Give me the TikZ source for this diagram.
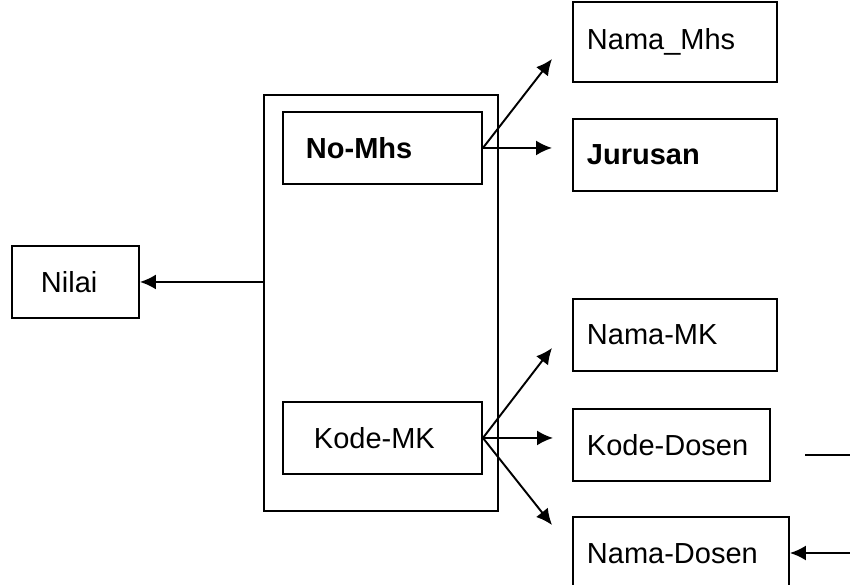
\documentclass[tikz,border=0pt]{standalone}
\usepackage{fontspec}
\setmainfont{Liberation Sans}
\usetikzlibrary{arrows.meta}
\tikzset{kotak/.style={draw, rectangle, anchor=north west, minimum height=1.44cm, inner ysep=0pt, align=left, font=\fontsize{16.5}{20}\selectfont},
  panah/.style={-{Latex[length=3.2mm,width=3mm]}}}
\begin{document}
\begin{tikzpicture}[line width=1.1pt]
  \clip (0,0) rectangle (17,-11.7);
  % kunci
  \node[draw, anchor=north west, minimum width=4.68cm, minimum height=8.32cm] (Tabel) at (5.26,-1.88) {};
  \node[kotak, inner xsep=0.46cm, text width=3.06cm] (NoMhs) at (5.64,-2.22) {\textbf{No-Mhs}};
  \node[kotak, inner xsep=0.62cm, text width=2.74cm] (KodeMK) at (5.64,-8.02) {Kode-MK};
  \node[kotak, inner xsep=0.58cm, text width=1.38cm] (Nilai) at (0.22,-4.9) {Nilai};
  % atribut
  \node[kotak, inner xsep=0.28cm, text width=3.52cm, minimum height=1.6cm] (NamaMhs) at (11.44,-0.02) {Nama\_Mhs};
  \node[kotak, inner xsep=0.28cm, text width=3.52cm] (Jurusan) at (11.44,-2.36) {\textbf{Jurusan}};
  \node[kotak, inner xsep=0.28cm, text width=3.52cm] (NamaMK) at (11.44,-5.96) {Nama-MK};
  \node[kotak, inner xsep=0.28cm, text width=3.38cm] (KodeDosen) at (11.44,-8.16) {Kode-Dosen};
  \node[kotak, inner xsep=0.28cm, text width=3.76cm, minimum height=1.48cm] (NamaDosen) at (11.44,-10.32) {Nama-Dosen};
  \coordinate (t1) at (11.04,-1.18);
  \coordinate (t2) at (11.04,-6.96);
  \coordinate (t3) at (11.04,-10.5);
  \coordinate (g1) at (16.1,-9.1);
  \coordinate (g2) at (17,-9.1);
  \coordinate (g3) at (17,-11.06);
  \draw[panah] (Tabel.west |- Nilai.east) -- (Nilai.east);
  \draw[panah] (NoMhs.east) -- (t1);
  \draw[panah] (NoMhs.east) -- ([xshift=-0.4cm]NoMhs.east -| Jurusan.west);
  \draw[panah] (KodeMK.east) -- (t2);
  \draw[panah] (KodeMK.east) -- ([xshift=-0.38cm]KodeMK.east -| KodeDosen.west);
  \draw[panah] (KodeMK.east) -- (t3);
  \draw (g1) -- (g2);
  \draw[panah] (g3) -- (g3 -| NamaDosen.east);
\end{tikzpicture}
\end{document}
